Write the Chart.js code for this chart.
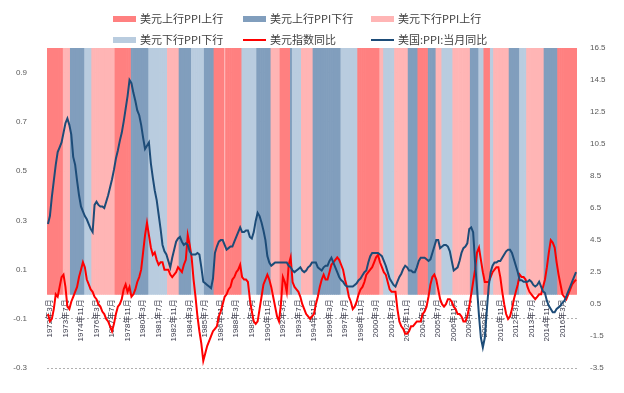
<!DOCTYPE html>
<html>
<head>
<meta charset="utf-8">
<script src="https://cdn.jsdelivr.net/npm/chart.js@4.4.1/dist/chart.umd.min.js"></script>
<style>
  html, body { margin: 0; padding: 0; background: #fff; }
  #wrap { width: 624px; height: 393px; }
</style>
</head>
<body>
<div id="wrap"><canvas id="chart" width="624" height="393"></canvas></div>
<script>
// data: one point every 2 months, starting 1972-01
const startYear = 1972;
const startMonth = 1;
const stepMonths = 2;

// regime bands (a: 美元上行PPI上行, b: 美元上行PPI下行, c: 美元下行PPI上行, d: 美元下行PPI下行)
// each entry = [regime, number of points]
const bandRuns = [
  ['a', 8], ['c', 4], ['b', 7], ['d', 4], ['c', 12], ['a', 8], ['b', 9], ['d', 10],
  ['c', 6], ['b', 6], ['d', 7], ['b', 5], ['a', 5], ['c', 1], ['a', 8], ['d', 8],
  ['b', 7], ['c', 5], ['a', 5], ['b', 1], ['d', 5], ['c', 6], ['b', 14], ['d', 9],
  ['a', 11], ['c', 2], ['d', 6], ['c', 7], ['b', 5], ['a', 5], ['b', 4], ['c', 3],
  ['d', 6], ['c', 9], ['b', 4], ['d', 3], ['a', 3], ['d', 2], ['c', 8], ['b', 5],
  ['d', 4], ['c', 9], ['b', 7], ['a', 10]
];

// 美元指数同比 (left axis)
const dollarYoY = [
  -0.08, -0.11, -0.10, -0.06, 0.00, -0.01, 0.03, 0.07, 0.08, 0.03,
  -0.05, -0.06, -0.03, -0.01, 0.01, 0.03, 0.07, 0.10, 0.13, 0.11,
  0.06, 0.04, 0.02, 0.01, -0.01, -0.02, -0.04, -0.05, -0.07, -0.08,
  -0.10, -0.11, -0.13, -0.15, -0.12, -0.08, -0.05, -0.04, -0.02, 0.02,
  0.04, 0.01, 0.03, -0.01, 0.00, 0.02, 0.05, 0.07, 0.10, 0.17,
  0.24, 0.29, 0.24, 0.19, 0.16, 0.17, 0.14, 0.12, 0.13, 0.13,
  0.10, 0.10, 0.10, 0.08, 0.07, 0.08, 0.09, 0.11, 0.10, 0.09,
  0.12, 0.14, 0.24, 0.20, 0.15, 0.06, -0.01, -0.09, -0.15, -0.20,
  -0.27, -0.24, -0.21, -0.19, -0.17, -0.15, -0.14, -0.13, -0.09, -0.07,
  -0.04, -0.01, 0.00, 0.02, 0.03, 0.06, 0.07, 0.09, 0.10, 0.12,
  0.07, 0.06, 0.06, 0.05, -0.02, -0.07, -0.11, -0.12, -0.11, -0.06,
  -0.01, 0.04, 0.06, 0.08, 0.06, 0.03, -0.01, -0.05, -0.09, -0.11,
  -0.04, 0.07, 0.05, 0.01, 0.12, 0.15, 0.05, 0.03, 0.02, 0.01,
  -0.01, -0.04, -0.06, -0.08, -0.09, -0.10, -0.09, -0.08, -0.04, -0.01,
  0.03, 0.06, 0.08, 0.06, 0.06, 0.09, 0.12, 0.13, 0.14, 0.15,
  0.14, 0.12, 0.10, 0.06, 0.03, -0.01, -0.03, -0.06, -0.05, -0.03,
  0.00, 0.02, 0.03, 0.05, 0.08, 0.09, 0.10, 0.11, 0.13, 0.15,
  0.16, 0.13, 0.11, 0.09, 0.08, 0.05, 0.02, 0.01, 0.01, 0.01,
  -0.06, -0.11, -0.13, -0.14, -0.16, -0.16, -0.15, -0.13, -0.13, -0.12,
  -0.11, -0.11, -0.11, -0.08, -0.07, -0.05, -0.01, 0.04, 0.07, 0.08,
  0.06, 0.02, -0.02, -0.04, -0.05, -0.04, -0.02, -0.02, -0.03, -0.05,
  -0.06, -0.08, -0.08, -0.09, -0.11, -0.11, -0.09, -0.05, 0.00, 0.05,
  0.10, 0.17, 0.19, 0.14, 0.09, 0.05, 0.05, 0.05, 0.07, 0.09,
  0.10, 0.11, 0.11, 0.07, 0.01, -0.04, -0.08, -0.10, -0.09, -0.06,
  -0.02, 0.01, 0.04, 0.08, 0.07, 0.07, 0.06, 0.03, 0.01, 0.00,
  -0.01, -0.02, -0.01, 0.00, 0.00, 0.03, 0.06, 0.11, 0.17, 0.22,
  0.21, 0.19, 0.13, 0.08, 0.04, 0.00, -0.01, -0.02, 0.00, 0.02,
  0.04, 0.05, 0.06
];

// 美国:PPI:当月同比 (right axis)
const ppiYoY = [
  5.5, 6.0, 7.2, 8.2, 9.2, 10.0, 10.3, 10.6, 11.2, 11.8,
  12.1, 11.7, 11.1, 9.7, 9.2, 8.2, 7.3, 6.6, 6.3, 6.0,
  5.8, 5.5, 5.2, 5.0, 6.7, 6.9, 6.7, 6.6, 6.6, 6.5,
  6.9, 7.3, 7.8, 8.3, 8.9, 9.6, 10.1, 10.7, 11.2, 11.9,
  12.7, 13.5, 14.5, 14.3, 13.7, 13.2, 12.6, 12.3, 11.7, 10.9,
  10.2, 10.4, 10.6, 9.3, 8.4, 7.6, 7.0, 6.1, 5.2, 4.2,
  3.8, 3.6, 3.2, 2.8, 3.4, 3.9, 4.4, 4.6, 4.7, 4.4,
  4.2, 4.3, 4.2, 3.8, 3.6, 3.6, 3.6, 3.7, 3.6, 2.8,
  1.9, 1.8, 1.7, 1.6, 1.5, 2.1, 3.7, 4.1, 4.4, 4.5,
  4.5, 4.2, 3.9, 4.0, 4.1, 4.1, 4.4, 4.7, 5.0, 5.3,
  5.0, 5.0, 5.1, 5.1, 4.7, 4.6, 5.0, 5.7, 6.2, 6.0,
  5.6, 5.1, 4.5, 3.5, 3.1, 2.9, 3.0, 3.1, 3.1, 3.1,
  3.1, 3.1, 3.1, 3.1, 2.9, 2.8, 2.6, 2.5, 2.6, 2.7,
  2.8, 2.6, 2.5, 2.6, 2.8, 2.9, 3.1, 3.1, 3.1, 2.8,
  2.7, 2.6, 2.8, 2.9, 2.9, 3.2, 3.4, 3.1, 2.8, 2.5,
  2.2, 2.0, 1.9, 1.7, 1.6, 1.6, 1.6, 1.6, 1.7, 1.8,
  2.0, 2.1, 2.3, 2.5, 2.6, 3.1, 3.5, 3.7, 3.7, 3.7,
  3.7, 3.6, 3.5, 3.2, 2.9, 2.5, 2.1, 1.9, 1.7, 1.6,
  1.9, 2.2, 2.4, 2.7, 2.9, 2.8, 2.6, 2.6, 2.5, 2.5,
  2.8, 3.2, 3.4, 3.4, 3.4, 3.3, 3.2, 3.3, 3.7, 4.1,
  4.5, 4.5, 4.0, 4.1, 4.2, 4.2, 4.1, 3.8, 3.2, 2.6,
  2.7, 2.8, 3.2, 3.7, 4.0, 4.1, 4.3, 5.2, 5.3, 5.0,
  3.1, 1.5, -0.2, -1.6, -2.2, -1.6, 0.0, 1.6, 2.5, 2.9,
  3.1, 3.1, 3.2, 3.2, 3.4, 3.6, 3.8, 3.9, 3.9, 3.7,
  3.3, 2.9, 2.5, 2.0, 2.0, 1.9, 1.9, 1.9, 2.0, 1.9,
  1.7, 1.6, 1.7, 1.9, 1.6, 1.3, 1.2, 0.7, 0.4, 0.2,
  0.0, 0.0, 0.2, 0.3, 0.4, 0.6, 0.7, 1.0, 1.3, 1.6,
  1.9, 2.2, 2.5
];

const leftTicks = [-0.3, -0.1, 0.1, 0.3, 0.5, 0.7, 0.9];
const rightTicks = [-3.5, -1.5, 0.5, 2.5, 4.5, 6.5, 8.5, 10.5, 12.5, 14.5, 16.5];

const bandNames = {
  a: '美元上行PPI上行',
  b: '美元上行PPI下行',
  c: '美元下行PPI上行',
  d: '美元下行PPI下行'
};
const bandColors = { a: '#FF8080', b: '#819EBD', c: '#FFB5B5', d: '#B9CCDF' };
const redColor = '#FF0000';
const blueColor = '#1D4C78';

// build category labels (YYYY年M月)
const categories = [];
for (let i = 0; i < ppiYoY.length; i++) {
  const m = startMonth - 1 + i * stepMonths;
  categories.push((startYear + Math.floor(m / 12)) + '年' + (m % 12 + 1) + '月');
}

// expand regime runs to one code per point
const regime = [];
bandRuns.forEach(([code, n]) => { for (let k = 0; k < n; k++) regime.push(code); });

const bandDatasets = ['a', 'b', 'c', 'd'].map(code => ({
  type: 'bar',
  label: bandNames[code],
  data: regime.map(r => (r === code ? 1.0 : null)),
  backgroundColor: bandColors[code],
  borderWidth: 0,
  barPercentage: 1,
  categoryPercentage: 1,
  grouped: false,
  yAxisID: 'y',
  order: 3
}));

// legend drawn on canvas in a fixed 3 x 2 grid
const legendItems = [
  { text: bandNames.a, color: bandColors.a, kind: 'box' },
  { text: bandNames.b, color: bandColors.b, kind: 'box' },
  { text: bandNames.c, color: bandColors.c, kind: 'box' },
  { text: bandNames.d, color: bandColors.d, kind: 'box' },
  { text: '美元指数同比', color: redColor, kind: 'line' },
  { text: '美国:PPI:当月同比', color: blueColor, kind: 'line' }
];

const gridLegend = {
  id: 'gridLegend',
  afterDraw(chart) {
    const ctx = chart.ctx;
    const colX = [113, 243, 371];
    const rowY = [19, 40];
    ctx.save();
    ctx.font = '11px "Noto Sans CJK SC", sans-serif';
    ctx.textBaseline = 'middle';
    ctx.fillStyle = '#404040';
    legendItems.forEach((it, i) => {
      const x = colX[i % 3];
      const y = rowY[Math.floor(i / 3)];
      if (it.kind === 'box') {
        ctx.fillStyle = it.color;
        ctx.fillRect(x, y - 3, 23, 6);
      } else {
        ctx.strokeStyle = it.color;
        ctx.lineWidth = 2;
        ctx.beginPath();
        ctx.moveTo(x, y);
        ctx.lineTo(x + 23, y);
        ctx.stroke();
      }
      ctx.fillStyle = '#404040';
      ctx.fillText(it.text, x + 27, y);
    });
    ctx.restore();
  }
};

const tickFont = { family: '"Liberation Sans", "Noto Sans CJK SC", sans-serif', size: 8 };

new Chart(document.getElementById('chart'), {
  type: 'bar',
  data: {
    labels: categories,
    datasets: [
      ...bandDatasets,
      {
        type: 'line',
        label: '美元指数同比',
        data: dollarYoY,
        borderColor: redColor,
        borderWidth: 2,
        pointRadius: 0,
        tension: 0,
        yAxisID: 'y',
        order: 2
      },
      {
        type: 'line',
        label: '美国:PPI:当月同比',
        data: ppiYoY,
        borderColor: blueColor,
        borderWidth: 2,
        pointRadius: 0,
        tension: 0,
        yAxisID: 'y2',
        order: 1
      }
    ]
  },
  options: {
    responsive: false,
    animation: false,
    devicePixelRatio: 1,
    layout: { padding: { top: 48, bottom: 10, left: 0, right: 0 } },
    plugins: {
      legend: { display: false },
      tooltip: { enabled: false }
    },
    scales: {
      x: {
        position: { y: 0 },
        offset: true,
        grid: { display: false, drawTicks: false },
        border: { display: false },
        ticks: {
          autoSkip: false,
          minRotation: 90,
          maxRotation: 90,
          padding: 5,
          color: '#3a3a4a',
          font: { family: '"Liberation Sans", "Noto Sans CJK SC", sans-serif', size: 8 }
        },
        afterBuildTicks: s => { s.ticks = s.ticks.filter(t => t.value % 8 === 1); }
      },
      y: {
        position: 'left',
        min: -0.3,
        max: 1.0,
        afterBuildTicks: s => { s.ticks = leftTicks.map(v => ({ value: v })); },
        afterFit: s => { s.width = 47; },
        grid: { color: '#b0b0b0', drawTicks: false },
        border: { display: false, dash: [2, 2] },
        ticks: {
          padding: 20,
          color: '#595959',
          font: tickFont,
          callback: v => v.toFixed(1)
        }
      },
      y2: {
        position: 'right',
        min: -3.5,
        max: 16.5,
        afterBuildTicks: s => { s.ticks = rightTicks.map(v => ({ value: v })); },
        afterFit: s => { s.width = 47; },
        grid: { display: false, drawTicks: false },
        border: { display: false },
        ticks: {
          padding: 13,
          color: '#595959',
          font: tickFont,
          callback: v => v.toFixed(1)
        }
      }
    }
  },
  plugins: [gridLegend]
});
</script>
</body>
</html>
